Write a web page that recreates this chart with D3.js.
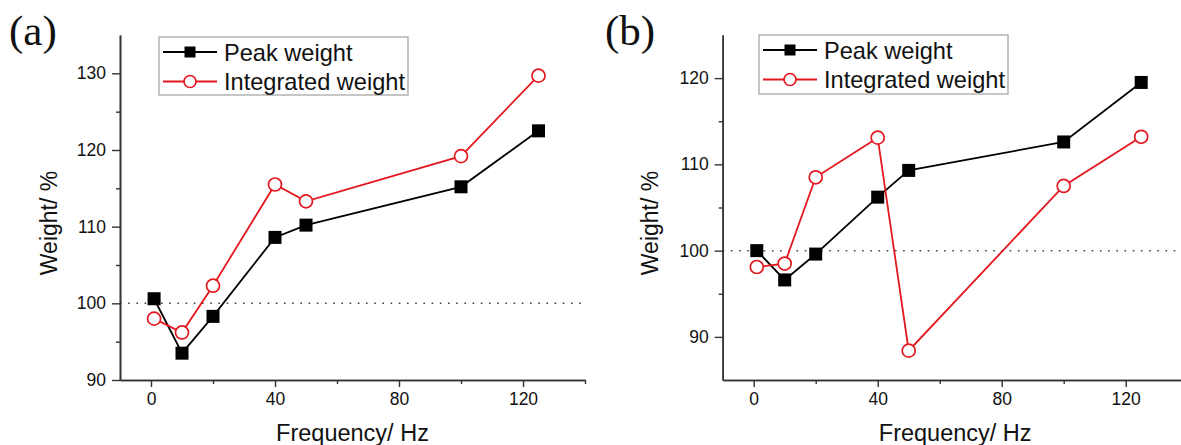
<!DOCTYPE html>
<html>
<head>
<meta charset="utf-8">
<script src="https://cdn.jsdelivr.net/npm/d3@7"></script>
<style>
  html, body { margin: 0; padding: 0; background: #fff; }
  svg { display: block; }
  text { font-family: "Liberation Sans", Arial, sans-serif; fill: #111; }
</style>
</head>
<body>
<svg id="chart" width="1181" height="445"></svg>
<script>
// Measured frequencies (Hz)
const frequency = [1, 10, 20, 40, 50, 100, 125];

// Panel (a) weights, %
const peakA = [100.6, 93.5, 98.3, 108.6, 110.2, 115.2, 122.5];
const integratedA = [98.0, 96.2, 102.3, 115.5, 113.3, 119.2, 129.7];

// Panel (b) weights, %
const peakB = [100.0, 96.6, 99.6, 106.2, 109.3, 112.6, 119.5];
const integratedB = [98.1, 98.5, 108.5, 113.1, 88.4, 107.5, 113.2];

// Axis ticks
const xTicks = [0, 40, 80, 120];
const xMinorTicks = [20, 60, 100, 140];
const yTicksA = [90, 100, 110, 120, 130];
const yMinorTicksA = [95, 105, 115, 125];
const yTicksB = [90, 100, 110, 120];
const yMinorTicksB = [95, 105, 115];

const seriesNames = ["Peak weight", "Integrated weight"];
const reference = 100;

const RED = "#e3171e";
const svg = d3.select("#chart");

const panels = [
  {
    tag: "(a)", peak: peakA, integrated: integratedA,
    xDomain: [-10, 140], yDomain: [90, 135],
    yTicks: yTicksA, yMinor: yMinorTicksA,
    left: 120, right: 585, top: 35, bottom: 380,
    tagX: 9, titleX: 57,
    legend: { x: 159, y: 37, w: 249, h: 58 }
  },
  {
    tag: "(b)", peak: peakB, integrated: integratedB,
    xDomain: [-10, 140], yDomain: [85, 125],
    yTicks: yTicksB, yMinor: yMinorTicksB,
    left: 722.7, right: 1187.7, top: 35, bottom: 380,
    tagX: 605, titleX: 658,
    legend: { x: 759, y: 35, w: 249, h: 59 }
  }
];

function squareMarker(sel, cx, cy, size) {
  sel.append("rect")
    .attr("x", cx - size / 2).attr("y", cy - size / 2)
    .attr("width", size).attr("height", size)
    .attr("fill", "#000");
}
function circleMarker(sel, cx, cy, r) {
  sel.append("circle")
    .attr("cx", cx).attr("cy", cy).attr("r", r)
    .attr("fill", "#fff").attr("stroke", RED).attr("stroke-width", 1.7);
}

panels.forEach(p => {
  const g = svg.append("g");
  const x = d3.scaleLinear().domain(p.xDomain).range([p.left, p.right]);
  const y = d3.scaleLinear().domain(p.yDomain).range([p.bottom, p.top]);

  // panel tag
  svg.append("text")
    .attr("x", p.tagX).attr("y", 45)
    .style("font-family", "'Liberation Serif', 'Times New Roman', serif")
    .style("font-size", "43px")
    .text(p.tag);

  // reference line at 100 %
  g.append("line")
    .attr("x1", x(p.xDomain[0])).attr("x2", x(p.xDomain[1]))
    .attr("y1", y(reference)).attr("y2", y(reference))
    .attr("stroke", "#444").attr("stroke-width", 1.5)
    .attr("stroke-dasharray", "1.6,6.6");

  // axes
  const styleAxis = a => {
    a.selectAll("path.domain").attr("stroke", "#333").attr("stroke-width", 1.6);
    a.selectAll(".tick line").attr("stroke", "#333").attr("stroke-width", 1.4);
    a.selectAll("text").style("font-size", "17.5px")
      .style("font-family", "'Liberation Sans', Arial, sans-serif").attr("fill", "#111");
  };

  const xMinor = g.append("g").attr("transform", `translate(0,${p.bottom})`)
    .call(d3.axisBottom(x).tickValues(xMinorTicks).tickSize(4).tickSizeOuter(0).tickFormat(""));
  styleAxis(xMinor);
  const xAxis = g.append("g").attr("transform", `translate(0,${p.bottom})`)
    .call(d3.axisBottom(x).tickValues(xTicks).tickSize(7).tickPadding(6).tickSizeOuter(0));
  styleAxis(xAxis);

  const yMinor = g.append("g").attr("transform", `translate(${p.left},0)`)
    .call(d3.axisLeft(y).tickValues(p.yMinor).tickSize(4).tickSizeOuter(0).tickFormat(""));
  styleAxis(yMinor);
  const yAxis = g.append("g").attr("transform", `translate(${p.left},0)`)
    .call(d3.axisLeft(y).tickValues(p.yTicks).tickSize(8).tickPadding(6).tickSizeOuter(0));
  styleAxis(yAxis);

  // axis titles
  g.append("text")
    .attr("x", (p.left + p.right) / 2).attr("y", 441)
    .attr("text-anchor", "middle")
    .style("font-size", "23.5px")
    .text("Frequency/ Hz");
  g.append("text")
    .attr("transform", `translate(${p.titleX},223) rotate(-90)`)
    .attr("text-anchor", "middle")
    .style("font-size", "23px")
    .text("Weight/ %");

  // series
  const line = d3.line().x(d => x(d[0])).y(d => y(d[1]));
  const peakPts = frequency.map((f, i) => [f, p.peak[i]]);
  const intPts = frequency.map((f, i) => [f, p.integrated[i]]);

  g.append("path").datum(peakPts).attr("d", line)
    .attr("fill", "none").attr("stroke", "#000").attr("stroke-width", 1.8);
  const pm = g.append("g");
  peakPts.forEach(d => squareMarker(pm, x(d[0]), y(d[1]), 13));

  g.append("path").datum(intPts).attr("d", line)
    .attr("fill", "none").attr("stroke", RED).attr("stroke-width", 1.8);
  const im = g.append("g");
  intPts.forEach(d => circleMarker(im, x(d[0]), y(d[1]), 6.5));

  // legend
  const L = p.legend;
  const lg = g.append("g");
  lg.append("rect")
    .attr("x", L.x).attr("y", L.y).attr("width", L.w).attr("height", L.h)
    .attr("fill", "#fff").attr("stroke", "#a0a0a0").attr("stroke-width", 1.2);
  const rows = [L.y + 15, L.y + 44.5];
  const x0 = L.x + 4, x1 = L.x + 58, xm = (x0 + x1) / 2;
  lg.append("line").attr("x1", x0).attr("x2", x1).attr("y1", rows[0]).attr("y2", rows[0])
    .attr("stroke", "#000").attr("stroke-width", 1.8);
  squareMarker(lg, xm, rows[0], 11);
  lg.append("line").attr("x1", x0).attr("x2", x1).attr("y1", rows[1]).attr("y2", rows[1])
    .attr("stroke", RED).attr("stroke-width", 1.8);
  circleMarker(lg, xm, rows[1], 6);
  seriesNames.forEach((name, i) => {
    lg.append("text")
      .attr("x", L.x + 65).attr("y", rows[i] + 8.5)
      .style("font-size", "23.6px")
      .text(name);
  });
});
</script>
</body>
</html>
